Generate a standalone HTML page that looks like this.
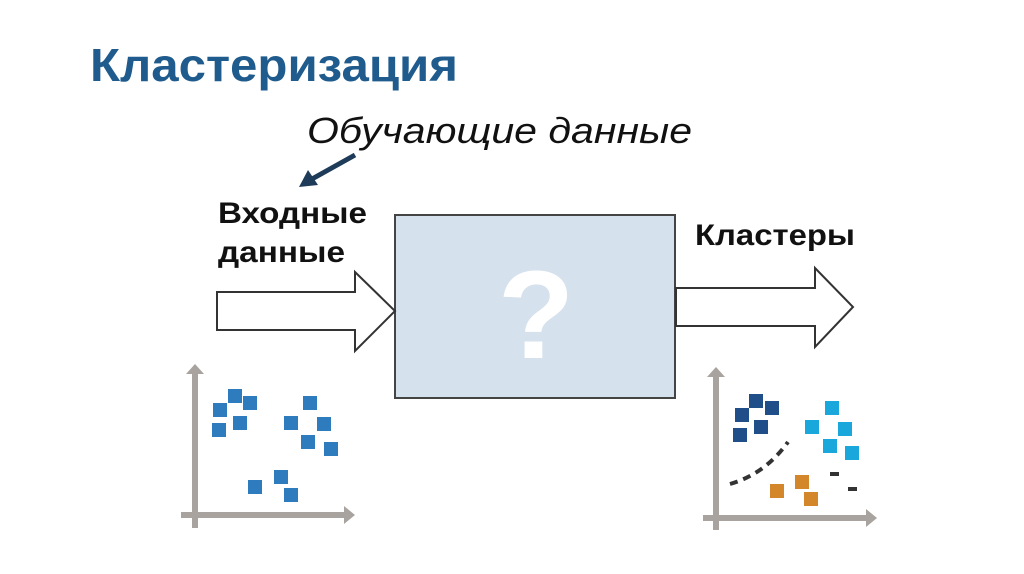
<!DOCTYPE html>
<html><head><meta charset="utf-8"><style>
html,body{margin:0;padding:0;background:#fff;width:1024px;height:574px;overflow:hidden}
svg{display:block}
</style></head><body>
<svg width="1024" height="574" xmlns="http://www.w3.org/2000/svg">
<text x="90" y="81" font-family="Liberation Sans, sans-serif" font-weight="bold" font-size="46" fill="#1f5b8c" textLength="368" lengthAdjust="spacingAndGlyphs">Кластеризация</text>
<text x="307" y="143" font-family="Liberation Sans, sans-serif" font-style="italic" font-size="36" fill="#111" textLength="385" lengthAdjust="spacingAndGlyphs">Обучающие данные</text>
<line x1="355" y1="155" x2="312" y2="179" stroke="#1e3c5a" stroke-width="5"/>
<polygon points="299,187 308,170 318,185" fill="#1e3c5a"/>
<text font-family="Liberation Sans, sans-serif" font-weight="bold" font-size="30" fill="#111"><tspan x="218" y="223" textLength="149" lengthAdjust="spacingAndGlyphs">Входные</tspan></text>
<text font-family="Liberation Sans, sans-serif" font-weight="bold" font-size="30" fill="#111"><tspan x="218" y="262" textLength="127" lengthAdjust="spacingAndGlyphs">данные</tspan></text>
<text x="695" y="245" font-family="Liberation Sans, sans-serif" font-weight="bold" font-size="30" fill="#111" textLength="160" lengthAdjust="spacingAndGlyphs">Кластеры</text>
<rect x="395" y="215" width="280" height="183" fill="#d6e1ee" stroke="#444" stroke-width="2"/>
<text x="536" y="358" text-anchor="middle" font-family="Liberation Sans, sans-serif" font-weight="bold" font-size="125" fill="#fff">?</text>
<polygon points="217,292 355,292 355,272 395,311 355,351 355,330 217,330" fill="#fff" stroke="#333" stroke-width="2"/>
<polygon points="676,288 815,288 815,268 853,307 815,347 815,326 676,326" fill="#fff" stroke="#333" stroke-width="2"/>
<g fill="#a8a39f">
<rect x="192" y="372" width="6" height="156"/><polygon points="186,374 195,364 204,374"/>
<rect x="181" y="512" width="165" height="6"/><polygon points="344,506 355,515 344,524"/>
<rect x="713" y="375" width="6" height="155"/><polygon points="707,377 716,367 725,377"/>
<rect x="703" y="515" width="165" height="6"/><polygon points="866,509 877,518 866,527"/>
</g>
<g fill="#2e7bbd">
<rect x="228" y="389" width="14" height="14"/><rect x="213" y="403" width="14" height="14"/><rect x="243" y="396" width="14" height="14"/><rect x="212" y="423" width="14" height="14"/><rect x="233" y="416" width="14" height="14"/>
<rect x="303" y="396" width="14" height="14"/><rect x="284" y="416" width="14" height="14"/><rect x="317" y="417" width="14" height="14"/><rect x="301" y="435" width="14" height="14"/><rect x="324" y="442" width="14" height="14"/>
<rect x="274" y="470" width="14" height="14"/><rect x="248" y="480" width="14" height="14"/><rect x="284" y="488" width="14" height="14"/>
</g>
<g fill="#1f4e89">
<rect x="749" y="394" width="14" height="14"/><rect x="735" y="408" width="14" height="14"/><rect x="765" y="401" width="14" height="14"/><rect x="733" y="428" width="14" height="14"/><rect x="754" y="420" width="14" height="14"/>
</g>
<g fill="#1aa7dc">
<rect x="825" y="401" width="14" height="14"/><rect x="805" y="420" width="14" height="14"/><rect x="838" y="422" width="14" height="14"/><rect x="823" y="439" width="14" height="14"/><rect x="845" y="446" width="14" height="14"/>
</g>
<g fill="#d4862b">
<rect x="795" y="475" width="14" height="14"/><rect x="770" y="484" width="14" height="14"/><rect x="804" y="492" width="14" height="14"/>
</g>
<path d="M730,484 Q765,474 788,442" fill="none" stroke="#333" stroke-width="4" stroke-dasharray="8,6"/>
<rect x="830" y="472" width="9" height="4" fill="#333"/><rect x="848" y="487" width="9" height="4" fill="#333"/>
</svg>
</body></html>
